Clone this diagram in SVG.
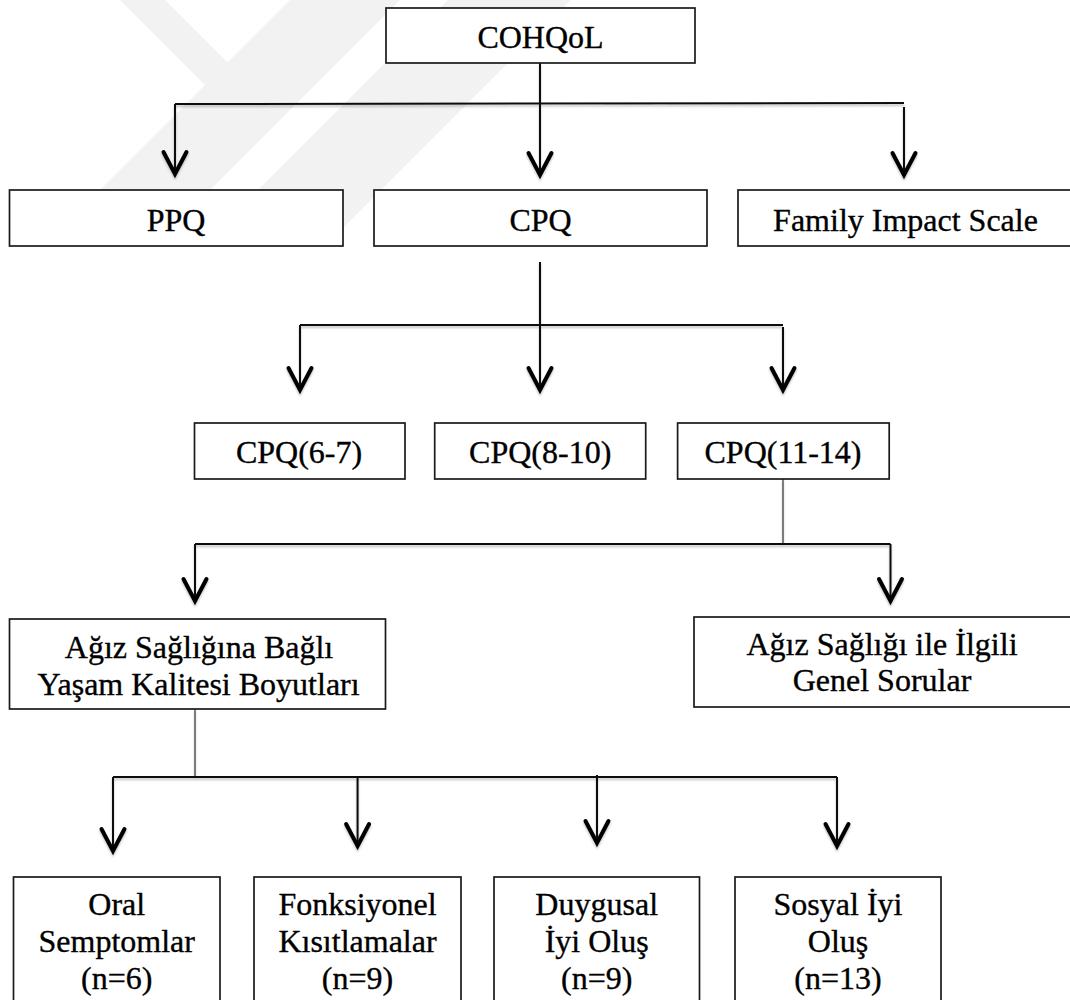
<svg xmlns="http://www.w3.org/2000/svg" width="1070" height="1000" viewBox="0 0 1070 1000">
  <defs>
    <style>
      .box { fill: #ffffff; stroke: #1a1a1a; stroke-width: 1.7; }
      .lbl { font-family: "Liberation Serif", "Times New Roman", serif; font-size: 32px; fill: #000; stroke: #000; stroke-width: 0.35; text-anchor: middle; }
      .ln { stroke: #111; stroke-width: 2; fill: none; }
      .thin { stroke: #333; stroke-width: 1.2; fill: none; }
      .wm { fill: #f2f2f2; }
    </style>
    <marker id="arr" markerUnits="userSpaceOnUse" markerWidth="32" markerHeight="32" viewBox="-26 -16 32 32" refX="0" refY="0" orient="auto">
      <path d="M-22,-11.5 L0,0 L-22,11.5" fill="none" stroke="#000" stroke-width="4" stroke-linejoin="miter" stroke-linecap="round"/>
    </marker>
    <filter id="sh" x="-20%" y="-20%" width="140%" height="160%">
      <feDropShadow dx="0" dy="2" stdDeviation="1.2" flood-color="#000" flood-opacity="0.25"/>
    </filter>
  </defs>
  <rect x="0" y="0" width="1070" height="1000" fill="#ffffff"/>

  <g id="watermark">
    <polygon class="wm" points="120,0 165,0 227.5,62.5 205,85"/>
    <polygon class="wm" points="290,0 400,0 154,246 44,246"/>
    <polygon class="wm" points="448,0 571,0 325,246 202,246"/>
  </g>

  <g id="connectors" filter="url(#sh)">
    <line class="ln" x1="540" y1="63" x2="540" y2="175" marker-end="url(#arr)"/>
    <line class="ln" x1="175" y1="104" x2="904" y2="103"/>
    <line class="ln" x1="175" y1="104" x2="175" y2="174" marker-end="url(#arr)"/>
    <line class="ln" x1="904" y1="107" x2="904" y2="175" marker-end="url(#arr)"/>

    <line class="ln" x1="540" y1="262" x2="540" y2="390" marker-end="url(#arr)"/>
    <line class="ln" x1="300" y1="325" x2="783" y2="325"/>
    <line class="ln" x1="300" y1="325" x2="300" y2="390" marker-end="url(#arr)"/>
    <line class="ln" x1="783" y1="327" x2="783" y2="390" marker-end="url(#arr)"/>

    <line class="thin" x1="783" y1="479" x2="783" y2="544"/>
    <line class="ln" x1="195" y1="544" x2="890.5" y2="544"/>
    <line class="ln" x1="195" y1="544" x2="195" y2="601" marker-end="url(#arr)"/>
    <line class="ln" x1="890.5" y1="544" x2="890.5" y2="601" marker-end="url(#arr)"/>

    <line class="thin" x1="195" y1="709" x2="195" y2="777"/>
    <line class="ln" x1="113" y1="777" x2="837" y2="777"/>
    <line class="ln" x1="113" y1="777" x2="113" y2="851" marker-end="url(#arr)"/>
    <line class="ln" x1="357.6" y1="777" x2="357.6" y2="846" marker-end="url(#arr)"/>
    <line class="ln" x1="597" y1="775" x2="597" y2="843" marker-end="url(#arr)"/>
    <line class="ln" x1="837" y1="777" x2="837" y2="846" marker-end="url(#arr)"/>
  </g>

  <g id="n-cohqol">
    <rect class="box" x="386" y="8" width="309" height="55"/>
    <text class="lbl" x="540.5" y="48">COHQoL</text>
  </g>
  <g id="n-ppq">
    <rect class="box" x="9.5" y="190" width="333.5" height="56"/>
    <text class="lbl" x="176" y="231">PPQ</text>
  </g>
  <g id="n-cpq">
    <rect class="box" x="374" y="190" width="333" height="56"/>
    <text class="lbl" x="540.5" y="231">CPQ</text>
  </g>
  <g id="n-fis">
    <rect class="box" x="738" y="190" width="345" height="56"/>
    <text class="lbl" x="905.5" y="231">Family Impact Scale</text>
  </g>

  <g id="n-cpq67">
    <rect class="box" x="194.5" y="423" width="210.5" height="56"/>
    <text class="lbl" x="299" y="463">CPQ(6-7)</text>
  </g>
  <g id="n-cpq810">
    <rect class="box" x="434.7" y="423" width="211" height="56"/>
    <text class="lbl" x="540.2" y="463">CPQ(8-10)</text>
  </g>
  <g id="n-cpq1114">
    <rect class="box" x="677.6" y="423" width="211.6" height="56"/>
    <text class="lbl" x="783" y="463">CPQ(11-14)</text>
  </g>

  <g id="n-boyutlar">
    <rect class="box" x="9.5" y="619" width="376" height="90"/>
    <text class="lbl" x="199" y="658">Ağız Sağlığına Bağlı</text>
    <text class="lbl" x="198.6" y="695">Yaşam Kalitesi Boyutları</text>
  </g>
  <g id="n-genel">
    <rect class="box" x="694" y="617" width="390" height="90"/>
    <text class="lbl" x="882" y="655">Ağız Sağlığı ile İlgili</text>
    <text class="lbl" x="882" y="691">Genel Sorular</text>
  </g>

  <g id="n-oral">
    <rect class="box" x="13.5" y="877" width="206.5" height="140"/>
    <text class="lbl" x="116.7" y="915">Oral</text>
    <text class="lbl" x="116.7" y="952">Semptomlar</text>
    <text class="lbl" x="116.7" y="989">(n=6)</text>
  </g>
  <g id="n-fonk">
    <rect class="box" x="254" y="877" width="207" height="140"/>
    <text class="lbl" x="357.5" y="915">Fonksiyonel</text>
    <text class="lbl" x="357.5" y="952">Kısıtlamalar</text>
    <text class="lbl" x="357.5" y="989">(n=9)</text>
  </g>
  <g id="n-duygu">
    <rect class="box" x="494" y="877" width="205.5" height="140"/>
    <text class="lbl" x="596.7" y="915">Duygusal</text>
    <text class="lbl" x="596.7" y="952">İyi Oluş</text>
    <text class="lbl" x="596.7" y="989">(n=9)</text>
  </g>
  <g id="n-sosyal">
    <rect class="box" x="735" y="877" width="206" height="140"/>
    <text class="lbl" x="838" y="915">Sosyal İyi</text>
    <text class="lbl" x="838" y="952">Oluş</text>
    <text class="lbl" x="838" y="989">(n=13)</text>
  </g>
</svg>
